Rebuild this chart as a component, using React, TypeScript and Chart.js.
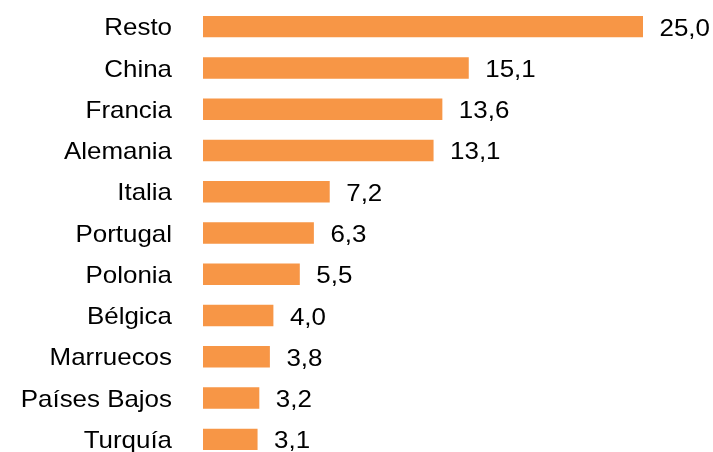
import React, { useEffect, useRef } from "react";
import { Chart, registerables } from "chart.js";

Chart.register(...registerables);

const categories = [
  "Resto",
  "China",
  "Francia",
  "Alemania",
  "Italia",
  "Portugal",
  "Polonia",
  "Bélgica",
  "Marruecos",
  "Países Bajos",
  "Turquía",
];
const values = [25.0, 15.1, 13.6, 13.1, 7.2, 6.3, 5.5, 4.0, 3.8, 3.2, 3.1];
const valueLabels = ["25,0", "15,1", "13,6", "13,1", "7,2", "6,3", "5,5", "4,0", "3,8", "3,2", "3,1"];

const FONT = "'Liberation Sans', Arial, Helvetica, sans-serif";
const STRETCH = 1.08;

const textPlugin = {
  id: "stretchedText",
  afterDatasetsDraw(chart: any) {
    const ctx = chart.ctx;
    const meta = chart.getDatasetMeta(0);
    const yScale = chart.scales.y;
    ctx.save();
    ctx.font = `24px ${FONT}`;
    ctx.fillStyle = "#000000";
    ctx.textBaseline = "alphabetic";
    // category labels, right aligned
    categories.forEach((label, i) => {
      const y = yScale.getPixelForTick(i);
      ctx.save();
      ctx.translate(yScale.right - 31, y + 8.6);
      ctx.scale(STRETCH, 1);
      ctx.textAlign = "right";
      ctx.fillText(label, 0, 0);
      ctx.restore();
    });
    // value labels at bar ends
    meta.data.forEach((bar: any, i: number) => {
      ctx.save();
      ctx.translate(bar.x + 16.5, bar.y + 9);
      ctx.scale(STRETCH, 1);
      ctx.textAlign = "left";
      ctx.fillText(valueLabels[i], 0, 0);
      ctx.restore();
    });
    ctx.restore();
  },
};

export default function App() {
  const canvasRef = useRef<HTMLCanvasElement | null>(null);

  useEffect(() => {
    if (!canvasRef.current) return;
    const chart = new Chart(canvasRef.current, {
      type: "bar",
      data: {
        labels: categories,
        datasets: [
          {
            data: values,
            backgroundColor: "#F79646",
            borderWidth: 0,
            barPercentage: 0.52,
            categoryPercentage: 1,
          },
        ],
      },
      options: {
        indexAxis: "y",
        animation: false,
        responsive: false,
        maintainAspectRatio: false,
        devicePixelRatio: 1,
        layout: { padding: { top: 6, bottom: 0, left: 0, right: 17.2 } },
        plugins: {
          legend: { display: false },
          tooltip: { enabled: false },
          title: { display: false },
        },
        scales: {
          x: {
            display: false,
            min: 0,
            max: 28,
          },
          y: {
            grid: { display: false, drawTicks: false },
            border: { display: false },
            ticks: {
              display: false,
              font: { family: FONT, size: 24 },
            },
            afterFit: (scale: any) => {
              scale.width = 203;
              scale.paddingTop = 0;
              scale.paddingBottom = 0;
            },
          },
        },
      },
      plugins: [textPlugin],
    });
    return () => chart.destroy();
  }, []);

  return (
    <div
      style={{
        position: "fixed",
        left: 0,
        top: 0,
        width: 713,
        height: 460,
        background: "#ffffff",
      }}
    >
      <canvas ref={canvasRef} width={713} height={460} style={{ display: "block", width: 713, height: 460 }} />
    </div>
  );
}
